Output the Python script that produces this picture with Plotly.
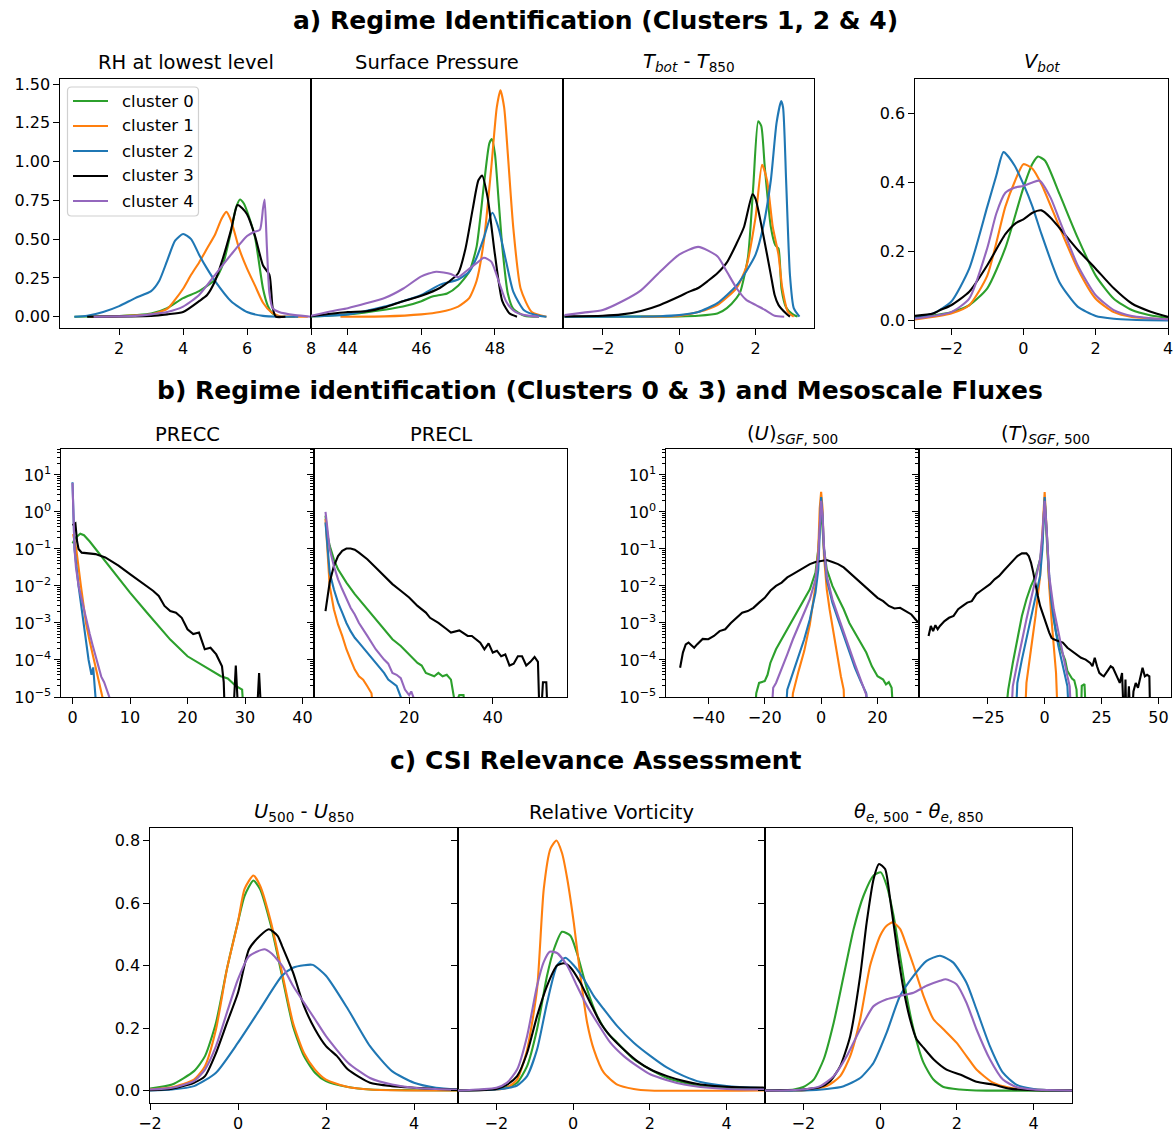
import plotly.graph_objects as go

W, H = 1174, 1135
FONT = "DejaVu Sans"
COLORS = ["#2ca02c", "#ff7f0e", "#1f77b4", "black", "#9467bd"]
NAMES = ["cluster 0", "cluster 1", "cluster 2", "cluster 3", "cluster 4"]

# ---------------- a) regime identification: (x, density) pairs ----------------
rh_c0 = [(0.6, 0), (2.0, 0.004), (2.5, 0.01), (3.0, 0.02), (3.5, 0.055), (4.0, 0.12), (4.5, 0.165),
         (5.0, 0.24), (5.25, 0.34), (5.5, 0.55), (5.65, 0.70), (5.78, 0.756), (5.9, 0.73), (6.0, 0.68),
         (6.25, 0.51), (6.5, 0.18), (6.65, 0.07), (6.8, 0.02), (7.0, 0.0), (7.5, 0)]
rh_c1 = [(1.1, 0), (2.0, 0.003), (3.0, 0.015), (3.5, 0.05), (3.75, 0.11), (4.0, 0.18), (4.25, 0.27),
         (4.5, 0.35), (4.75, 0.44), (5.0, 0.53), (5.2, 0.63), (5.35, 0.676), (5.5, 0.62), (5.75, 0.44),
         (6.0, 0.31), (6.25, 0.2), (6.5, 0.09), (6.75, 0.03), (7.0, 0.005), (7.5, 0), (7.9, 0)]
rh_c2 = [(0.6, 0), (1.0, 0.006), (1.5, 0.03), (2.0, 0.068), (2.5, 0.12), (3.0, 0.165), (3.25, 0.23),
         (3.5, 0.36), (3.75, 0.49), (4.0, 0.533), (4.25, 0.50), (4.5, 0.40), (4.75, 0.31), (5.0, 0.23),
         (5.5, 0.10), (6.0, 0.03), (6.5, 0.005), (7.0, 0), (7.6, 0)]
rh_c3 = [(1.0, 0), (3.0, 0.005), (3.5, 0.015), (4.0, 0.03), (4.5, 0.10), (4.75, 0.14), (5.0, 0.23),
         (5.25, 0.38), (5.5, 0.56), (5.7, 0.72), (5.85, 0.70), (6.0, 0.66), (6.25, 0.52), (6.5, 0.33),
         (6.7, 0.27), (6.8, 0.06), (6.9, 0.0), (7.2, 0)]
rh_c4 = [(1.2, 0), (2.5, 0.005), (3.0, 0.015), (3.5, 0.03), (4.0, 0.065), (4.5, 0.14), (5.0, 0.27),
         (5.5, 0.40), (6.0, 0.52), (6.2, 0.545), (6.4, 0.56), (6.5, 0.70), (6.55, 0.756), (6.62, 0.45),
         (6.7, 0.15), (6.8, 0.055), (7.0, 0.03), (7.5, 0.01), (8.0, 0.0)]

sp_c0 = [(43.0, 0.002), (44.0, 0.015), (45.0, 0.045), (45.5, 0.065), (46.0, 0.10), (46.3, 0.13),
         (46.7, 0.15), (47.0, 0.20), (47.3, 0.29), (47.5, 0.45), (47.7, 0.85), (47.85, 1.12),
         (47.92, 1.145), (48.0, 1.05), (48.1, 0.75), (48.2, 0.45), (48.35, 0.15), (48.5, 0.05),
         (48.8, 0.006), (49.2, 0)]
sp_c1 = [(43.8, 0), (45.0, 0.002), (46.0, 0.015), (46.5, 0.03), (47.0, 0.065), (47.3, 0.12), (47.5, 0.23),
         (47.7, 0.49), (47.9, 0.96), (48.05, 1.35), (48.15, 1.46), (48.25, 1.35), (48.35, 1.05),
         (48.5, 0.57), (48.7, 0.18), (49.0, 0.03), (49.4, 0)]
sp_c2 = [(43.0, 0.003), (44.0, 0.015), (45.0, 0.065), (45.5, 0.10), (46.0, 0.14), (46.5, 0.205),
         (47.0, 0.24), (47.3, 0.29), (47.5, 0.38), (47.7, 0.51), (47.93, 0.67), (48.1, 0.57),
         (48.3, 0.36), (48.5, 0.16), (48.8, 0.04), (49.2, 0.006), (49.4, 0)]
sp_c3 = [(43.0, 0.003), (44.0, 0.03), (44.5, 0.035), (45.0, 0.06), (45.5, 0.10), (46.0, 0.135),
         (46.5, 0.185), (47.0, 0.28), (47.2, 0.44), (47.4, 0.70), (47.55, 0.88), (47.65, 0.91),
         (47.8, 0.77), (48.0, 0.40), (48.2, 0.10), (48.4, 0.02), (48.6, 0)]
sp_c4 = [(43.0, 0.006), (43.6, 0.037), (44.0, 0.055), (44.5, 0.086), (45.0, 0.12), (45.5, 0.18),
         (46.0, 0.26), (46.4, 0.29), (46.8, 0.275), (47.0, 0.255), (47.2, 0.29), (47.5, 0.345),
         (47.7, 0.38), (47.9, 0.355), (48.1, 0.23), (48.3, 0.10), (48.5, 0.04), (48.8, 0.01), (49.2, 0)]

td_c0 = [(-3.0, 0), (0.0, 0.002), (0.5, 0.006), (1.0, 0.02), (1.25, 0.055), (1.5, 0.12), (1.6, 0.16),
         (1.8, 0.38), (1.94, 0.84), (2.07, 1.26), (2.15, 1.23), (2.24, 0.97), (2.4, 0.58), (2.52, 0.46),
         (2.6, 0.44), (2.68, 0.18), (2.8, 0.06), (2.95, 0.02), (3.1, 0)]
td_c1 = [(-1.0, 0), (0.0, 0.005), (0.5, 0.03), (1.0, 0.075), (1.5, 0.185), (1.75, 0.315), (2.0, 0.64),
         (2.17, 0.98), (2.3, 0.88), (2.45, 0.58), (2.6, 0.40), (2.7, 0.185), (2.85, 0.03), (3.0, 0)]
td_c2 = [(-3.0, 0), (-0.5, 0.003), (0.0, 0.01), (0.5, 0.03), (1.0, 0.087), (1.5, 0.20), (1.75, 0.29),
         (2.0, 0.40), (2.2, 0.58), (2.4, 0.88), (2.55, 1.25), (2.67, 1.39), (2.72, 1.35), (2.8, 0.88),
         (2.9, 0.27), (3.0, 0.055), (3.15, 0)]
td_c3 = [(-3.0, 0.002), (-2.0, 0.006), (-1.5, 0.015), (-1.0, 0.037), (-0.5, 0.076), (0.0, 0.13),
         (0.25, 0.16), (0.5, 0.185), (0.75, 0.23), (1.0, 0.28), (1.25, 0.35), (1.5, 0.47), (1.7, 0.58),
         (1.92, 0.79), (2.0, 0.76), (2.2, 0.53), (2.4, 0.27), (2.5, 0.14), (2.6, 0.076), (2.8, 0.02),
         (2.9, 0)]
td_c4 = [(-3.0, 0.01), (-2.5, 0.026), (-2.0, 0.043), (-1.5, 0.098), (-1.0, 0.17), (-0.5, 0.29),
         (0.0, 0.40), (0.5, 0.45), (1.0, 0.39), (1.25, 0.29), (1.5, 0.185), (1.75, 0.11), (2.0, 0.076),
         (2.25, 0.043), (2.5, 0.006), (2.75, 0)]

vb_c0 = [(-3, 0.007), (-2, 0.024), (-1.5, 0.044), (-1, 0.093), (-0.5, 0.21), (0, 0.385), (0.25, 0.454),
         (0.4, 0.475), (0.6, 0.463), (1.0, 0.366), (1.5, 0.24), (2.0, 0.13), (2.5, 0.063), (3.0, 0.03),
         (3.5, 0.015), (4, 0.007)]
vb_c1 = [(-3, 0.003), (-2, 0.02), (-1.5, 0.044), (-1, 0.13), (-0.5, 0.33), (-0.25, 0.40), (0, 0.453),
         (0.25, 0.44), (0.5, 0.395), (1.0, 0.27), (1.5, 0.15), (2.0, 0.063), (2.5, 0.024), (3.0, 0.01),
         (4, 0.003)]
vb_c2 = [(-3, 0.007), (-2.5, 0.02), (-2, 0.054), (-1.5, 0.15), (-1, 0.33), (-0.75, 0.42), (-0.55, 0.488),
         (-0.25, 0.45), (0, 0.395), (0.25, 0.33), (0.5, 0.25), (1.0, 0.11), (1.5, 0.04), (2.0, 0.013),
         (2.5, 0.005), (3, 0.002), (4, 0)]
vb_c3 = [(-3, 0.013), (-2.5, 0.02), (-2.3, 0.03), (-2, 0.044), (-1.5, 0.083), (-1, 0.16), (-0.5, 0.25),
         (-0.2, 0.283), (0, 0.293), (0.25, 0.312), (0.5, 0.319), (0.75, 0.298), (1.0, 0.268),
         (1.5, 0.205), (2.0, 0.15), (2.5, 0.093), (3.0, 0.049), (3.5, 0.026), (4, 0.01)]
vb_c4 = [(-3, 0.005), (-2, 0.024), (-1.5, 0.063), (-1, 0.21), (-0.75, 0.31), (-0.5, 0.37), (-0.25, 0.385),
         (0, 0.39), (0.25, 0.40), (0.45, 0.405), (0.75, 0.356), (1.0, 0.29), (1.5, 0.16), (2.0, 0.073),
         (2.5, 0.03), (3.0, 0.013), (4, 0.003)]

# ---------------- b) log-scale densities: (x, log10 density) pairs ----------------
precc_c0 = [(0, -0.85), (0.5, -0.7), (1.35, -0.59), (2, -0.63), (3, -0.8), (5, -1.2), (8, -1.8),
            (10, -2.18), (13, -2.73), (15, -3.1), (17, -3.45), (20, -3.9), (23, -4.17), (25.8, -4.44),
            (27, -4.5), (28.4, -4.7), (29.5, -4.8), (30, -6)]
precc_c1 = [(0.1, -0.6), (0.65, -1.0), (1.46, -2.0), (2.34, -3.0), (3.0, -3.5), (3.7, -4.0), (4.4, -4.5),
            (5.2, -5.0), (5.5, -6)]
precc_c2 = [(0, 0.8), (0.15, 0.0), (0.35, -1.0), (1.05, -2.0), (1.9, -3.0), (2.8, -4.0), (3.3, -4.4),
            (3.6, -4.2), (4.0, -5.0), (4.2, -6)]
precc_c3 = [(0, -0.36), (0.3, -0.33), (0.5, -0.31), (0.8, -0.8), (1.05, -1.0), (1.6, -1.1), (3, -1.12),
            (4, -1.14), (5.7, -1.23), (7.2, -1.37), (8, -1.45), (10, -1.68), (12, -1.9), (14, -2.13),
            (15, -2.27), (16, -2.54), (17, -2.68), (18, -2.72), (19, -2.86), (20, -3.17), (21, -3.3),
            (22, -3.26), (23, -3.71), (24, -3.67), (25, -3.85), (26, -4.17), (26.3, -4.6), (26.6, -6),
            (27.8, -6), (28.4, -4.15), (29.0, -6), (31.9, -6), (32.45, -4.35), (33.0, -6)]
precc_c4 = [(0, 0.78), (0.15, 0.0), (0.35, -1.0), (0.6, -1.5), (1.06, -2.0), (1.5, -2.3), (2.0, -2.65),
            (2.5, -3.0), (3.0, -3.3), (3.5, -3.6), (4.2, -4.0), (5.0, -4.45), (5.5, -4.6), (6.0, -4.8),
            (6.4, -5.0), (6.6, -6)]

precl_c0 = [(0, -0.1), (0.5, -0.64), (1, -0.91), (2, -1.28), (3, -1.55), (4, -1.73), (5, -1.91), (7, -2.22),
            (10, -2.63), (12, -2.9), (14, -3.17), (16, -3.44), (18, -3.62), (20, -3.85), (22, -4.08),
            (23, -4.15), (24, -4.35), (26, -4.44), (27, -4.35), (28, -4.44), (29, -4.4), (30, -4.53),
            (31, -5.2), (32, -4.95), (33, -4.95), (34, -6)]
precl_c1 = [(0, -0.19), (0.5, -1.28), (1, -2.0), (2, -2.63), (3, -3.04), (4, -3.35), (5, -3.71), (6, -3.99),
            (7, -4.26), (8, -4.44), (9, -4.53), (10, -4.71), (11, -4.9), (12, -6)]
precl_c2 = [(0, -0.28), (0.5, -1.0), (1, -1.64), (2, -2.09), (3, -2.45), (4, -2.72), (5, -3.0), (6, -3.22),
            (7, -3.4), (8, -3.53), (10, -3.8), (12, -4.08), (14, -4.35), (15, -4.53), (16, -4.62),
            (17, -4.7), (18, -5.0), (18.5, -6)]
precl_c3 = [(0, -2.68), (1, -1.9), (2, -1.46), (3, -1.19), (4, -1.05), (5, -0.99), (6, -0.99), (7, -1.02),
            (8, -1.1), (10, -1.28), (12, -1.5), (14, -1.73), (16, -1.95), (18, -2.13), (20, -2.31),
            (22, -2.54), (24, -2.72), (25, -2.86), (27, -3.0), (29, -3.17), (30, -3.26), (32, -3.2),
            (34, -3.35), (35, -3.35), (37, -3.53), (38, -3.71), (39, -3.55), (40, -3.8), (41, -3.75),
            (42, -3.9), (43, -3.85), (44, -4.15), (45, -4.1), (46, -3.9), (47, -3.9), (48, -4.15),
            (49, -4.05), (50, -3.92), (50.8, -4.05), (51.3, -6), (52.0, -4.6), (52.8, -4.6), (53.3, -6)]
precl_c4 = [(0, 0.0), (0.5, -0.55), (1, -1.0), (2, -1.46), (3, -1.82), (4, -2.09), (5, -2.36), (6, -2.59),
            (7, -2.77), (8, -3.0), (10, -3.35), (12, -3.71), (14, -3.99), (15, -4.1), (16, -4.35),
            (17, -4.4), (18, -4.49), (19, -4.8), (20, -4.95), (20.5, -4.85), (21, -5.0), (21.5, -6)]

usgf_c0 = [(-24, -6), (-23, -4.9), (-22, -4.62), (-20, -4.57), (-19, -4.4), (-18, -4.08), (-16, -3.71),
           (-14, -3.44), (-12, -3.17), (-10, -2.9), (-8, -2.63), (-6, -2.36), (-4, -2.09), (-2, -1.64),
           (-1, -1.0), (-0.5, -0.46), (0, 0.1), (0.5, -0.46), (1, -1.0), (2, -1.55), (4, -2.0), (6, -2.32),
           (8, -2.63), (10, -3.0), (12, -3.26), (14, -3.53), (16, -3.8), (18, -4.17), (20, -4.44),
           (22, -4.53), (23, -4.66), (24, -4.6), (25, -4.75), (26, -6)]
usgf_c1 = [(-11, -6), (-10, -4.9), (-8, -4.3), (-6, -3.76), (-4, -3.04), (-2, -2.0), (-1, -1.0),
           (-0.5, 0.1), (0, 0.54), (0.5, 0.1), (1, -1.18), (2, -2.09), (3, -2.63), (4, -3.08), (5, -3.53),
           (6, -4.08), (7, -4.44), (8, -4.8), (8.5, -6)]
usgf_c2 = [(-13, -6), (-12, -4.8), (-10, -4.35), (-8, -3.9), (-6, -3.44), (-4, -2.9), (-2, -2.18),
           (-1, -1.55), (-0.5, -0.64), (0, 0.4), (0.5, -0.1), (1, -1.0), (2, -1.82), (4, -2.45), (6, -2.9),
           (8, -3.35), (10, -3.8), (12, -4.21), (14, -4.57), (16, -4.9), (17, -6)]
usgf_c3 = [(-50, -4.21), (-49, -3.8), (-48, -3.58), (-47, -3.53), (-46, -3.6), (-45, -3.67), (-44, -3.58),
           (-42, -3.43), (-40, -3.44), (-38, -3.35), (-36, -3.22), (-34, -3.17), (-32, -3.0), (-30, -2.86),
           (-28, -2.72), (-26, -2.68), (-24, -2.59), (-22, -2.45), (-20, -2.32), (-18, -2.13), (-16, -2.0),
           (-14, -1.91), (-12, -1.77), (-10, -1.68), (-8, -1.59), (-6, -1.48), (-4, -1.41), (-2, -1.35),
           (0, -1.32), (1, -1.3), (2, -1.3), (4, -1.35), (6, -1.41), (8, -1.5), (10, -1.64), (12, -1.77),
           (14, -1.91), (16, -2.04), (18, -2.18), (20, -2.32), (22, -2.41), (24, -2.54), (26, -2.61),
           (28, -2.59), (30, -2.68), (32, -2.77), (34, -2.95), (35, -3.0)]
usgf_c4 = [(-18, -6), (-17, -4.75), (-16, -4.62), (-14, -4.26), (-12, -3.85), (-10, -3.44), (-8, -3.08),
           (-6, -2.72), (-4, -2.36), (-2, -1.82), (-1, -1.18), (-0.5, -0.37), (0, 0.3), (0.5, -0.1),
           (1, -0.91), (2, -1.73), (4, -2.36), (6, -2.81), (8, -3.26), (10, -3.71), (12, -4.12),
           (14, -4.53), (16, -4.94), (17, -6)]

tsgf_c0 = [(-18, -6), (-16, -4.8), (-14, -4.08), (-12, -3.44), (-10, -2.81), (-8, -2.36), (-6, -2.0),
           (-4, -1.73), (-2, -1.28), (-1, -0.82), (0, 0.36), (1, -0.82), (2, -1.91), (3, -2.45), (4, -2.9),
           (5, -3.26), (6, -3.5), (7, -3.7), (8, -3.85), (9, -4.0), (10, -4.3), (11, -4.4), (12, -4.5),
           (13, -4.55), (14, -4.8), (14.8, -6), (15.8, -6), (16.3, -4.7), (17.5, -4.65), (18.5, -6)]
tsgf_c1 = [(-9, -6), (-8, -4.62), (-6, -3.71), (-4, -2.81), (-2, -1.73), (-1, -0.64), (0, 0.54), (1, -0.64),
           (2, -2.0), (3, -2.9), (4, -3.71), (5, -4.35), (6, -6)]
tsgf_c2 = [(-13, -6), (-12, -4.62), (-10, -3.99), (-8, -3.44), (-6, -2.9), (-4, -2.36), (-2, -1.73),
           (-1, -1.0), (0, 0.4), (1, -0.64), (2, -1.73), (3, -2.45), (4, -2.9), (6, -3.62), (8, -4.17),
           (10, -4.71), (11, -6)]
tsgf_c3 = [(-51, -3.35), (-50, -3.08), (-49, -3.22), (-48, -3.06), (-47, -3.17), (-46, -3.08), (-44, -2.95),
           (-42, -2.86), (-40, -2.81), (-38, -2.63), (-36, -2.54), (-34, -2.45), (-32, -2.41), (-30, -2.22),
           (-28, -2.13), (-26, -2.04), (-24, -1.95), (-22, -1.82), (-20, -1.73), (-18, -1.59), (-16, -1.46),
           (-14, -1.32), (-12, -1.19), (-10, -1.12), (-8, -1.12), (-7, -1.19), (-6, -1.37), (-5, -1.64),
           (-4, -2.0), (-3, -2.27), (-2, -2.54), (-1, -2.72), (0, -2.95), (1, -3.13), (2, -3.26), (3, -3.4),
           (4, -3.44), (6, -3.49), (8, -3.53), (10, -3.67), (12, -3.76), (14, -3.85), (16, -3.94),
           (18, -3.99), (20, -4.08), (21, -4.17), (22, -3.94), (23, -4.17), (24, -4.35), (25, -4.4),
           (26, -4.44), (28, -4.26), (29, -4.17), (30, -4.21), (31, -4.35), (32, -4.53), (33, -4.62),
           (34, -4.35), (35, -6), (35.5, -4.53), (36, -6), (37, -4.71), (38, -6), (39, -4.85), (40, -4.62),
           (41, -4.75), (42, -4.44), (43, -4.21), (44, -4.44), (45, -4.4), (46, -4.44), (46.5, -6)]
tsgf_c4 = [(-15, -6), (-14, -4.71), (-12, -4.08), (-10, -3.44), (-8, -2.9), (-6, -2.36), (-4, -1.82),
           (-2, -1.28), (-1, -0.6), (0, 0.3), (1, -0.6), (2, -1.73), (4, -2.63), (6, -3.26), (8, -3.9),
           (10, -4.44), (11, -4.71), (12, -6)]

# ---------------- c) CSI relevance: (x, density) pairs ----------------
ush_c0 = [(-2, 0.006), (-1.5, 0.019), (-1, 0.062), (-0.75, 0.11), (-0.5, 0.217), (-0.25, 0.39), (0, 0.54),
          (0.15, 0.623), (0.35, 0.672), (0.5, 0.645), (0.75, 0.527), (1.0, 0.367), (1.25, 0.206),
          (1.5, 0.11), (1.75, 0.057), (2.0, 0.03), (2.5, 0.011), (3, 0.003), (4, 0.001), (5, 0)]
ush_c1 = [(-2, 0.003), (-1.5, 0.01), (-1, 0.035), (-0.75, 0.078), (-0.5, 0.196), (-0.25, 0.39), (0, 0.54),
          (0.15, 0.645), (0.35, 0.688), (0.5, 0.656), (0.75, 0.538), (1.0, 0.378), (1.25, 0.217),
          (1.5, 0.12), (1.75, 0.067), (2.0, 0.035), (2.5, 0.011), (3, 0.003), (4, 0), (5, 0)]
ush_c2 = [(-2, 0.0), (-1.5, 0.003), (-1, 0.014), (-0.5, 0.057), (0, 0.153), (0.5, 0.26), (1.0, 0.367),
          (1.25, 0.393), (1.5, 0.401), (1.7, 0.402), (2.0, 0.367), (2.5, 0.26), (3.0, 0.142),
          (3.5, 0.062), (4.0, 0.025), (4.5, 0.009), (5.0, 0.003)]
ush_c3 = [(-2, 0.001), (-1.5, 0.006), (-1, 0.025), (-0.75, 0.046), (-0.5, 0.12), (-0.25, 0.217),
          (0, 0.313), (0.25, 0.452), (0.5, 0.495), (0.7, 0.516), (0.9, 0.495), (1.0, 0.463), (1.25, 0.378),
          (1.5, 0.27), (1.75, 0.196), (2.0, 0.142), (2.25, 0.11), (2.5, 0.067), (3.0, 0.025), (3.5, 0.014),
          (4.0, 0.009), (4.5, 0.005), (5, 0.003)]
ush_c4 = [(-2, 0.003), (-1.5, 0.009), (-1, 0.03), (-0.75, 0.067), (-0.5, 0.142), (-0.25, 0.25), (0, 0.356),
          (0.25, 0.43), (0.6, 0.452), (0.75, 0.44), (1.0, 0.40), (1.25, 0.335), (1.5, 0.281), (1.75, 0.228),
          (2.0, 0.174), (2.5, 0.089), (3.0, 0.04), (3.5, 0.019), (4.0, 0.009), (5, 0.002)]

vort_c0 = [(-3, 0), (-2, 0.005), (-1.72, 0.011), (-1.46, 0.025), (-1.2, 0.078), (-0.94, 0.196),
           (-0.68, 0.367), (-0.5, 0.452), (-0.29, 0.508), (-0.07, 0.495), (0.1, 0.44), (0.365, 0.324),
           (0.63, 0.238), (0.89, 0.185), (1.15, 0.153), (1.58, 0.1), (2.02, 0.067), (2.45, 0.04),
           (2.89, 0.025), (3.32, 0.014), (4.0, 0.009), (5, 0.003)]
vort_c1 = [(-3, 0), (-2, 0.003), (-1.72, 0.009), (-1.46, 0.035), (-1.2, 0.13), (-0.94, 0.324),
           (-0.765, 0.645), (-0.59, 0.774), (-0.435, 0.80), (-0.29, 0.76), (-0.157, 0.68), (0.017, 0.537),
           (0.19, 0.366), (0.365, 0.217), (0.54, 0.131), (0.8, 0.057), (1.15, 0.019), (1.58, 0.005),
           (2.0, 0), (5, 0)]
vort_c2 = [(-3, 0), (-2, 0.003), (-1.46, 0.016), (-1.2, 0.046), (-0.94, 0.131), (-0.68, 0.28),
           (-0.42, 0.40), (-0.2, 0.425), (0.02, 0.40), (0.28, 0.356), (0.54, 0.302), (0.8, 0.26),
           (1.15, 0.206), (1.58, 0.153), (2.02, 0.11), (2.45, 0.073), (2.89, 0.046), (3.32, 0.027),
           (4.0, 0.014), (5, 0.007)]
vort_c3 = [(-3, 0), (-2, 0.005), (-1.72, 0.019), (-1.46, 0.046), (-1.2, 0.12), (-0.94, 0.238),
           (-0.68, 0.335), (-0.42, 0.40), (-0.24, 0.407), (-0.07, 0.394), (0.19, 0.345), (0.45, 0.28),
           (0.71, 0.217), (0.97, 0.174), (1.32, 0.131), (1.67, 0.094), (2.02, 0.067), (2.45, 0.046),
           (2.89, 0.03), (3.32, 0.019), (4.0, 0.012), (5, 0.009)]
vort_c4 = [(-3, 0), (-2, 0.009), (-1.72, 0.025), (-1.46, 0.067), (-1.2, 0.174), (-0.94, 0.335),
           (-0.77, 0.41), (-0.61, 0.444), (-0.42, 0.44), (-0.157, 0.40), (0.1, 0.335), (0.365, 0.27),
           (0.63, 0.217), (0.97, 0.153), (1.32, 0.11), (1.67, 0.078), (2.02, 0.051), (2.45, 0.033),
           (2.89, 0.019), (3.32, 0.011), (4.0, 0.005), (5, 0.003)]

the_c0 = [(-3, 0), (-2.25, 0.003), (-2, 0.011), (-1.73, 0.035), (-1.47, 0.1), (-1.21, 0.217),
          (-0.95, 0.367), (-0.69, 0.517), (-0.43, 0.624), (-0.17, 0.688), (0.02, 0.698), (0.17, 0.656),
          (0.35, 0.559), (0.52, 0.431), (0.69, 0.303), (0.87, 0.196), (1.13, 0.089), (1.39, 0.035),
          (1.65, 0.011), (2.08, 0.003), (2.5, 0), (5, 0)]
the_c1 = [(-3, 0), (-2, 0.0), (-1.39, 0.014), (-1.04, 0.046), (-0.78, 0.11), (-0.52, 0.228), (-0.26, 0.40),
          (0, 0.495), (0.17, 0.527), (0.33, 0.538), (0.52, 0.517), (0.69, 0.463), (0.87, 0.40),
          (1.13, 0.303), (1.39, 0.228), (1.65, 0.196), (1.99, 0.153), (2.25, 0.11), (2.51, 0.067),
          (2.94, 0.025), (3.38, 0.009), (4, 0.003), (5, 0)]
the_c2 = [(-3, 0), (-2, 0), (-1.39, 0.005), (-0.95, 0.014), (-0.52, 0.04), (-0.17, 0.089), (0.17, 0.185),
          (0.52, 0.303), (0.87, 0.367), (1.21, 0.415), (1.56, 0.431), (1.9, 0.41), (2.25, 0.345),
          (2.51, 0.26), (2.86, 0.142), (3.2, 0.057), (3.55, 0.019), (4, 0.005), (4.68, 0), (5, 0)]
the_c3 = [(-3, 0), (-2, 0.003), (-1.56, 0.011), (-1.3, 0.03), (-1.04, 0.078), (-0.78, 0.174),
          (-0.52, 0.367), (-0.35, 0.538), (-0.17, 0.677), (-0.03, 0.725), (0.13, 0.709), (0.26, 0.613),
          (0.43, 0.463), (0.61, 0.324), (0.78, 0.228), (0.95, 0.164), (1.13, 0.137), (1.39, 0.1),
          (1.73, 0.067), (2.08, 0.051), (2.51, 0.028), (2.94, 0.019), (3.38, 0.006), (4, 0.001), (5, 0)]
the_c4 = [(-3, 0), (-2.6, 0), (-2, 0.003), (-1.56, 0.014), (-1.21, 0.046), (-0.87, 0.11), (-0.52, 0.196),
          (-0.17, 0.27), (0.17, 0.292), (0.52, 0.303), (0.87, 0.313), (1.21, 0.335), (1.56, 0.351),
          (1.71, 0.356), (1.99, 0.34), (2.25, 0.281), (2.51, 0.196), (2.86, 0.1), (3.2, 0.035),
          (3.55, 0.011), (4, 0.003), (5, 0)]

# ---------------- panel layout (pixel boxes: left, right, top, bottom) ----------------
ROW_A = (79, 328)
ROW_B = (449, 697)
ROW_C = (828, 1103)

panels = [
    dict(box=(60, 311, *ROW_A), xr=[0.15, 8.0], xt=[2, 4, 6, 8], yr=[-0.073, 1.533],
         yt=[0, 0.25, 0.5, 0.75, 1.0, 1.25, 1.5], yfmt=".2f", ymode="labels", log=False,
         title="RH at lowest level", curves=[rh_c0, rh_c1, rh_c2, rh_c3, rh_c4]),
    dict(box=(311, 563, *ROW_A), xr=[43.0, 49.85], xt=[44, 46, 48], yr=[-0.073, 1.533],
         yt=[], yfmt=None, ymode="none", log=False,
         title="Surface Pressure", curves=[sp_c0, sp_c1, sp_c2, sp_c3, sp_c4]),
    dict(box=(563, 814, *ROW_A), xr=[-3.04, 3.53], xt=[-2, 0, 2], yr=[-0.073, 1.533],
         yt=[], yfmt=None, ymode="none", log=False,
         title="<i>T</i><sub><i>bot</i></sub> - <i>T</i><sub>850</sub>",
         curves=[td_c0, td_c1, td_c2, td_c3, td_c4]),
    dict(box=(915, 1168, *ROW_A), xr=[-3, 4], xt=[-2, 0, 2, 4], yr=[-0.022, 0.70],
         yt=[0, 0.2, 0.4, 0.6], yfmt=".1f", ymode="labels", log=False,
         title="<i>V</i><sub><i>bot</i></sub>", curves=[vb_c0, vb_c1, vb_c2, vb_c3, vb_c4]),
    dict(box=(61, 314, *ROW_B), xr=[-2, 42], xt=[0, 10, 20, 30, 40], yr=[-5, 1.7],
         yt=None, yfmt=None, ymode="labels", log=True,
         title="PRECC", curves=[precc_c0, precc_c1, precc_c2, precc_c3, precc_c4]),
    dict(box=(314, 567, *ROW_B), xr=[-2.75, 57.75], xt=[20, 40], yr=[-5, 1.7],
         yt=None, yfmt=None, ymode="ticks", log=True,
         title="PRECL", curves=[precl_c0, precl_c1, precl_c2, precl_c3, precl_c4]),
    dict(box=(666, 919, *ROW_B), xr=[-55, 34.7], xt=[-40, -20, 0, 20], yr=[-5, 1.7],
         yt=None, yfmt=None, ymode="labels", log=True,
         title="(<i>U</i>)<sub><i>SGF</i>, 500</sub>",
         curves=[usgf_c0, usgf_c1, usgf_c2, usgf_c3, usgf_c4]),
    dict(box=(919, 1171, *ROW_B), xr=[-55.2, 55.5], xt=[-25, 0, 25, 50], yr=[-5, 1.7],
         yt=None, yfmt=None, ymode="ticks", log=True,
         title="(<i>T</i>)<sub><i>SGF</i>, 500</sub>",
         curves=[tsgf_c0, tsgf_c1, tsgf_c2, tsgf_c3, tsgf_c4]),
    dict(box=(150, 458, *ROW_C), xr=[-2, 5], xt=[-2, 0, 2, 4], yr=[-0.04, 0.84],
         yt=[0, 0.2, 0.4, 0.6, 0.8], yfmt=".1f", ymode="labels", log=False,
         title="<i>U</i><sub>500</sub> - <i>U</i><sub>850</sub>",
         curves=[ush_c0, ush_c1, ush_c2, ush_c3, ush_c4]),
    dict(box=(458, 765, *ROW_C), xr=[-3, 5], xt=[-2, 0, 2, 4], yr=[-0.04, 0.84],
         yt=[0, 0.2, 0.4, 0.6, 0.8], yfmt=".1f", ymode="ticks", log=False,
         title="Relative Vorticity", curves=[vort_c0, vort_c1, vort_c2, vort_c3, vort_c4]),
    dict(box=(765, 1072, *ROW_C), xr=[-3, 5], xt=[-2, 0, 2, 4], yr=[-0.04, 0.84],
         yt=[0, 0.2, 0.4, 0.6, 0.8], yfmt=".1f", ymode="ticks", log=False,
         title="<i>θ</i><sub><i>e</i>, 500</sub> - <i>θ</i><sub><i>e</i>, 850</sub>",
         curves=[the_c0, the_c1, the_c2, the_c3, the_c4]),
]

SECTION_TITLES = [
    ("a) Regime Identification (Clusters 1, 2 & 4)", 20, 595),
    ("b) Regime identification (Clusters 0 & 3) and Mesoscale Fluxes", 390, 600),
    ("c) CSI Relevance Assessment", 760, 596),
]
SUBTITLE_Y = {ROW_A: 62, ROW_B: 434, ROW_C: 812}

LOG_DECADES = [-5, -4, -3, -2, -1, 0, 1]
LOG_TEXT = ["10<sup>\u22125</sup>", "10<sup>\u22124</sup>", "10<sup>\u22123</sup>", "10<sup>\u22122</sup>",
            "10<sup>\u22121</sup>", "10<sup>0</sup>", "10<sup>1</sup>"]
LOG_MINOR = [m * 10 ** d for d in range(-5, 2) for m in range(2, 10) if m * 10 ** d < 10 ** 1.7]


def fx(p):
    return p / W


def fy(p):
    return 1 - p / H


def base_axis():
    return dict(showline=True, linecolor="black", linewidth=1.3, mirror=True, showgrid=False,
                zeroline=False, ticks="outside", ticklen=5.5, tickwidth=1.3, tickcolor="black",
                tickfont=dict(family=FONT, size=16, color="black"), layer="above traces",
                automargin=False)


fig = go.Figure()
layout = {}
annotations = []

for i, p in enumerate(panels, start=1):
    sx = "" if i == 1 else str(i)
    x0, x1, t, b = p["box"]
    xa = base_axis()
    xa.update(domain=[fx(x0), fx(x1)], range=p["xr"], tickmode="array", tickvals=p["xt"],
              anchor="y" + sx)
    ya = base_axis()
    ya.update(domain=[fy(b), fy(t)], anchor="x" + sx)
    if p["log"]:
        ya.update(type="log", range=p["yr"], tickmode="array",
                  tickvals=[10 ** d for d in LOG_DECADES], ticktext=LOG_TEXT,
                  minor=dict(tickmode="array", tickvals=LOG_MINOR, ticks="outside", ticklen=3,
                             tickwidth=1, tickcolor="black"))
    else:
        ya.update(range=p["yr"], tickmode="array", tickvals=p["yt"])
        if p["yfmt"]:
            ya.update(tickformat=p["yfmt"])
    if p["ymode"] == "none":
        ya.update(ticks="", showticklabels=False)
    elif p["ymode"] == "ticks":
        ya.update(showticklabels=False)
    layout["xaxis" + sx] = xa
    layout["yaxis" + sx] = ya

    for k, curve in enumerate(p["curves"]):
        xs = [c[0] for c in curve]
        if p["log"]:
            ys = [10 ** c[1] for c in curve]
            shape = "linear"
        else:
            ys = [c[1] for c in curve]
            shape = "spline"
        fig.add_trace(go.Scatter(
            x=xs, y=ys, mode="lines", name=NAMES[k], showlegend=False,
            line=dict(color=COLORS[k], width=2.1, shape=shape, smoothing=0.6),
            xaxis="x" + sx, yaxis="y" + sx, hoverinfo="skip"))

    annotations.append(dict(
        text=p["title"], xref="paper", yref="paper", x=fx((x0 + x1) / 2),
        y=fy(SUBTITLE_Y[(t, b)]), xanchor="center", yanchor="middle", showarrow=False,
        font=dict(family=FONT, size=19.5, color="black")))

for text, ypx, xpx in SECTION_TITLES:
    annotations.append(dict(
        text="<b>" + text + "</b>", xref="paper", yref="paper", x=fx(xpx), y=fy(ypx),
        xanchor="center", yanchor="middle", showarrow=False,
        font=dict(family=FONT, size=25, color="black")))

# legend box drawn in the first panel
shapes = []
LX0, LX1, LY0, LY1, R = 67.5, 198.5, 87, 216, 4
path = (f"M {fx(LX0 + R)},{fy(LY0)} L {fx(LX1 - R)},{fy(LY0)} "
        f"Q {fx(LX1)},{fy(LY0)} {fx(LX1)},{fy(LY0 + R)} L {fx(LX1)},{fy(LY1 - R)} "
        f"Q {fx(LX1)},{fy(LY1)} {fx(LX1 - R)},{fy(LY1)} L {fx(LX0 + R)},{fy(LY1)} "
        f"Q {fx(LX0)},{fy(LY1)} {fx(LX0)},{fy(LY1 - R)} L {fx(LX0)},{fy(LY0 + R)} "
        f"Q {fx(LX0)},{fy(LY0)} {fx(LX0 + R)},{fy(LY0)} Z")
shapes.append(dict(type="path", path=path, xref="paper", yref="paper",
                   fillcolor="rgba(255,255,255,0.8)", line=dict(color="#d0d0d0", width=1.2)))
for k in range(5):
    yc = 101 + 25 * k
    shapes.append(dict(type="line", xref="paper", yref="paper", x0=fx(73), x1=fx(108),
                       y0=fy(yc), y1=fy(yc), line=dict(color=COLORS[k], width=2.1)))
    annotations.append(dict(text=NAMES[k], xref="paper", yref="paper", x=fx(120), y=fy(yc),
                            xanchor="left", yanchor="middle", showarrow=False,
                            font=dict(family=FONT, size=16.5, color="black")))

fig.update_layout(
    template="none",
    width=W, height=H, margin=dict(l=0, r=0, t=0, b=0, autoexpand=False),
    paper_bgcolor="white", plot_bgcolor="white", showlegend=False,
    annotations=annotations, shapes=shapes, font=dict(family=FONT, color="black"),
    **layout)

fig.write_html("out.html")
